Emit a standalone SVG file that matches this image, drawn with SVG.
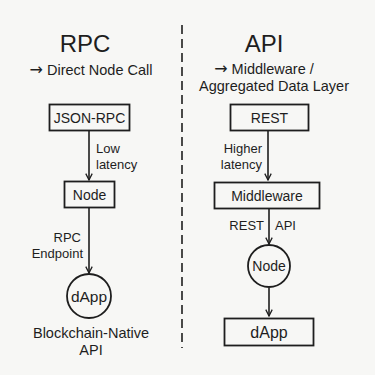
<svg xmlns="http://www.w3.org/2000/svg" width="375" height="375" viewBox="0 0 375 375">
<defs>
<marker id="ah" viewBox="0 0 10 10" refX="9" refY="5" markerWidth="8" markerHeight="8" orient="auto" markerUnits="userSpaceOnUse">
<path d="M1,1 L9,5 L1,9" fill="none" stroke="#1e1e1e" stroke-width="1.6"/>
</marker>
<style>
text{font-family:"Liberation Sans",Arial,sans-serif;fill:#1e1e1e}
.t{font-size:24px}
.s{font-size:14.5px}
.n{font-size:14px}
.l{font-size:13px}
.ar{font-family:"DejaVu Sans",sans-serif;font-size:16px}
.box{fill:none;stroke:#1e1e1e;stroke-width:1.8}
.c{stroke:#1e1e1e;stroke-width:1.6;fill:none}
</style>
</defs>
<rect width="375" height="375" fill="#f7f7f5"/>
<line x1="182" y1="25" x2="182" y2="348" stroke="#1e1e1e" stroke-width="1.6" stroke-dasharray="9,5"/>
<g id="headers">
<text class="t" x="85" y="52" text-anchor="middle">RPC</text>
<text class="s" x="91" y="75" text-anchor="middle"><tspan class="ar">→</tspan> Direct Node Call</text>
<text class="t" x="264" y="52" text-anchor="middle">API</text>
<text class="s" x="264" y="74" text-anchor="middle"><tspan class="ar">→</tspan> Middleware /</text>
<text class="s" x="274" y="91" text-anchor="middle">Aggregated Data Layer</text>
<text class="s" x="91" y="338" text-anchor="middle">Blockchain-Native<tspan x="91" dy="17">API</tspan></text>
</g>
<g id="json-rpc">
<rect class="box" x="49.5" y="104.5" width="80" height="26"/>
<text class="n" x="89.5" y="122.5" text-anchor="middle">JSON-RPC</text>
</g>
<g id="node-left">
<rect class="box" x="64.5" y="181.5" width="50" height="26"/>
<text class="n" x="89.5" y="199.5" text-anchor="middle">Node</text>
</g>
<g id="dapp-left">
<circle class="box" cx="89" cy="296" r="22"/>
<text x="89" y="301.5" text-anchor="middle" font-size="15.5">dApp</text>
</g>
<g id="rest">
<rect class="box" x="230.5" y="104.5" width="78" height="26"/>
<text class="n" x="269.5" y="122.5" text-anchor="middle">REST</text>
</g>
<g id="middleware">
<rect class="box" x="214.5" y="182.5" width="105" height="26"/>
<text class="n" x="267" y="200.5" text-anchor="middle">Middleware</text>
</g>
<g id="node-right">
<circle class="box" cx="269" cy="266" r="21"/>
<text x="269" y="271" text-anchor="middle" font-size="14">Node</text>
</g>
<g id="dapp-right">
<rect class="box" x="224.5" y="318.5" width="89" height="27"/>
<text x="269" y="337.5" text-anchor="middle" font-size="16">dApp</text>
</g>
<g id="connectors">
<line class="c" x1="89" y1="131" x2="89" y2="180" marker-end="url(#ah)"/>
<text class="l" x="96" y="153">Low<tspan x="96" dy="15.5">latency</tspan></text>
<line class="c" x1="89" y1="208" x2="89" y2="273" marker-end="url(#ah)"/>
<text class="l" x="81" y="242" text-anchor="end">RPC<tspan x="83" dy="15.5">Endpoint</tspan></text>
<line class="c" x1="268" y1="131" x2="268" y2="180" marker-end="url(#ah)"/>
<text class="l" x="262" y="153" text-anchor="end">Higher<tspan x="262" dy="15.5">latency</tspan></text>
<line class="c" x1="269" y1="209" x2="269" y2="244" marker-end="url(#ah)"/>
<text class="l" x="264" y="230" text-anchor="end">REST</text>
<text class="l" x="275" y="230">API</text>
<line class="c" x1="269" y1="288" x2="269" y2="316" marker-end="url(#ah)"/>
</g>
</svg>
